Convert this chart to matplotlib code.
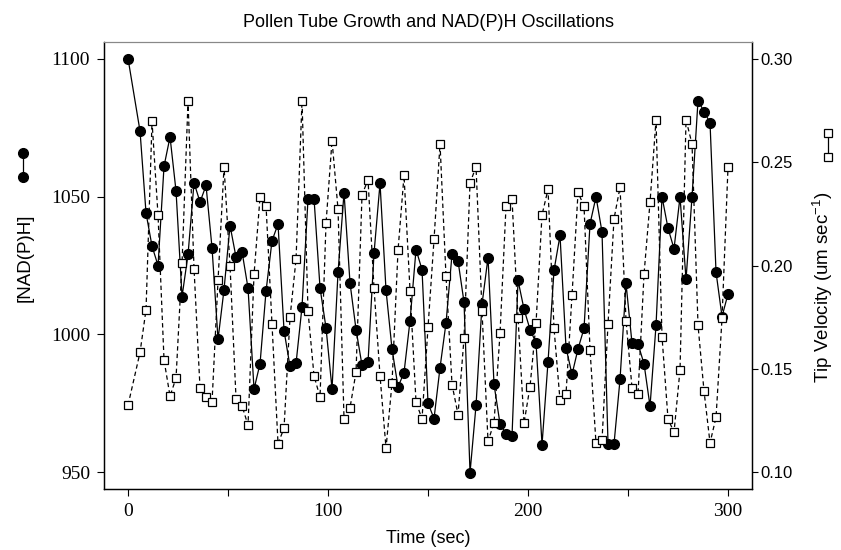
import numpy as np
import matplotlib.pyplot as plt
from matplotlib.lines import Line2D

plt.rcParams['mathtext.fontset'] = 'custom'
plt.rcParams['mathtext.rm'] = 'Liberation Sans'
plt.rcParams['mathtext.default'] = 'regular'

# time points (sec)
t = [0, 6, 9, 12, 15, 18, 21, 24, 27, 30, 33, 36, 39, 42, 45, 48, 51, 54, 57, 60,
     63, 66, 69, 72, 75, 78, 81, 84, 87, 90, 93, 96, 99, 102, 105, 108, 111, 114, 117, 120,
     123, 126, 129, 132, 135, 138, 141, 144, 147, 150, 153, 156, 159, 162, 165, 168, 171, 174, 177, 180,
     183, 186, 189, 192, 195, 198, 201, 204, 207, 210, 213, 216, 219, 222, 225, 228, 231, 234, 237, 240,
     243, 246, 249, 252, 255, 258, 261, 264, 267, 270, 273, 276, 279, 282, 285, 288, 291, 294, 297, 300]

# [NAD(P)H]
nadh = [1100, 1073.7, 1044, 1032, 1025, 1061, 1071.6, 1052, 1013.7, 1029,
        1055, 1048, 1054, 1031.4, 998.2, 1016.3, 1039.5, 1028, 1030, 1016.8,
        980.2, 989.4, 1015.7, 1034, 1040, 1001.4, 988.4, 989.5, 1010.1, 1049.2,
        1049.2, 1016.9, 1002.4, 980.3, 1022.5, 1051.4, 1018.6, 1001.8, 988.8, 990,
        1029.5, 1054.8, 1016, 994.7, 981, 986.2, 1005, 1030.8, 1023.5, 975.1,
        969.5, 988, 1004.2, 1029.1, 1026.7, 1011.7, 949.9, 974.3, 1011, 1027.9,
        981.9, 967.6, 964, 963.3, 1019.6, 1009.2, 1001.8, 997, 960.1, 990.1,
        1023.3, 1035.9, 995.2, 985.5, 994.8, 1002.2, 1040.1, 1049.9, 1037.1, 960.4,
        960.4, 983.7, 1018.5, 996.8, 996.5, 989.4, 974, 1003.3, 1049.9, 1038.5,
        1031.1, 1049.9, 1020, 1049.9, 1084.8, 1080.8, 1076.8, 1022.6, 1006.5, 1014.7]

# tip velocity (um/sec)
vel = [0.1325, 0.158, 0.1787, 0.2696, 0.2243, 0.1543, 0.1369, 0.1456, 0.201, 0.2794,
       0.1985, 0.1406, 0.1367, 0.134, 0.1928, 0.2477, 0.1998, 0.1357, 0.1322, 0.1228,
       0.1957, 0.233, 0.229, 0.1715, 0.1139, 0.1214, 0.1749, 0.203, 0.2796, 0.1778,
       0.1467, 0.1364, 0.2204, 0.2604, 0.2272, 0.1259, 0.1313, 0.1485, 0.2342, 0.2414,
       0.189, 0.1467, 0.1117, 0.1433, 0.2074, 0.2435, 0.1879, 0.134, 0.1259, 0.1702,
       0.2126, 0.2588, 0.1947, 0.1425, 0.128, 0.165, 0.2398, 0.2478, 0.1779, 0.115,
       0.124, 0.1673, 0.2287, 0.232, 0.1747, 0.1238, 0.1415, 0.1721, 0.2245, 0.2368,
       0.1696, 0.1348, 0.138, 0.1857, 0.2353, 0.2287, 0.1593, 0.114, 0.1155, 0.1718,
       0.2226, 0.2378, 0.1734, 0.1409, 0.138, 0.1958, 0.2306, 0.2704, 0.1656, 0.1258,
       0.1195, 0.1496, 0.2704, 0.2588, 0.1711, 0.1393, 0.1143, 0.1266, 0.1745, 0.2477]

fig = plt.figure(figsize=(8.41, 5.5), dpi=100)
ax = fig.add_axes([0.1237, 0.1109, 0.7705, 0.8127])

ax.plot(t, nadh, '-', color='black', lw=0.9, marker='o', ms=7,
        mfc='black', mec='black')
ax.set_xlim(-12, 312)
ax.set_ylim(944, 1106)
ax.set_yticks([950, 1000, 1050, 1100])
ax.set_xticks([0, 50, 100, 150, 200, 250, 300])
ax.set_xticklabels(['0', '', '100', '', '200', '', '300'])

serif = 'Liberation Serif'
sans = 'Liberation Sans'
for lab in ax.get_yticklabels() + ax.get_xticklabels():
    lab.set_family(serif)
    lab.set_fontsize(14)
ax.tick_params(direction='out', length=5, width=0.8, pad=5)

ax2 = ax.twinx()
ax2.plot(t, vel, '--', color='black', lw=0.9, dashes=(3.5, 2.5), marker='s', ms=5.5,
         mfc='white', mec='black', mew=0.9)
ax2.set_ylim(0.10 + (944 - 950) / 750, 0.10 + (1106 - 950) / 750)
ax2.set_yticks([0.10, 0.15, 0.20, 0.25, 0.30])
ax2.set_yticklabels(['0.10', '0.15', '0.20', '0.25', '0.30'])
for lab in ax2.get_yticklabels():
    lab.set_family(sans)
    lab.set_fontsize(12)
ax2.tick_params(direction='out', length=4, width=0.8, pad=2)

for a in (ax, ax2):
    for s in ('left', 'right', 'bottom'):
        a.spines[s].set_linewidth(0.9)
    a.spines['top'].set_color('#888888')
    a.spines['top'].set_linewidth(0.8)

ax.set_title('Pollen Tube Growth and NAD(P)H Oscillations', family=sans,
             fontsize=13, pad=11)
ax.set_xlabel('Time (sec)', family=sans, fontsize=13, labelpad=7)

fig.text(0.0297, 0.532, '[NAD(P)H]', family=sans, fontsize=13.5,
         rotation=90, ha='center', va='center')
fig.text(0.9786, 0.478, 'Tip Velocity (um sec$^{-1}$)', family=sans, fontsize=13.5,
         rotation=90, ha='center', va='center')

# legend keys beside the axis labels
fig.add_artist(Line2D([0.0273, 0.0273], [0.6782, 0.7218], transform=fig.transFigure,
                      color='black', lw=0.9, marker='o', ms=7))
fig.add_artist(Line2D([0.9845, 0.9845], [0.7145, 0.7582], transform=fig.transFigure,
                      color='black', lw=0.9, marker='s', ms=5.5, mfc='white', mew=0.9))

fig.savefig('out.png', dpi=100)
